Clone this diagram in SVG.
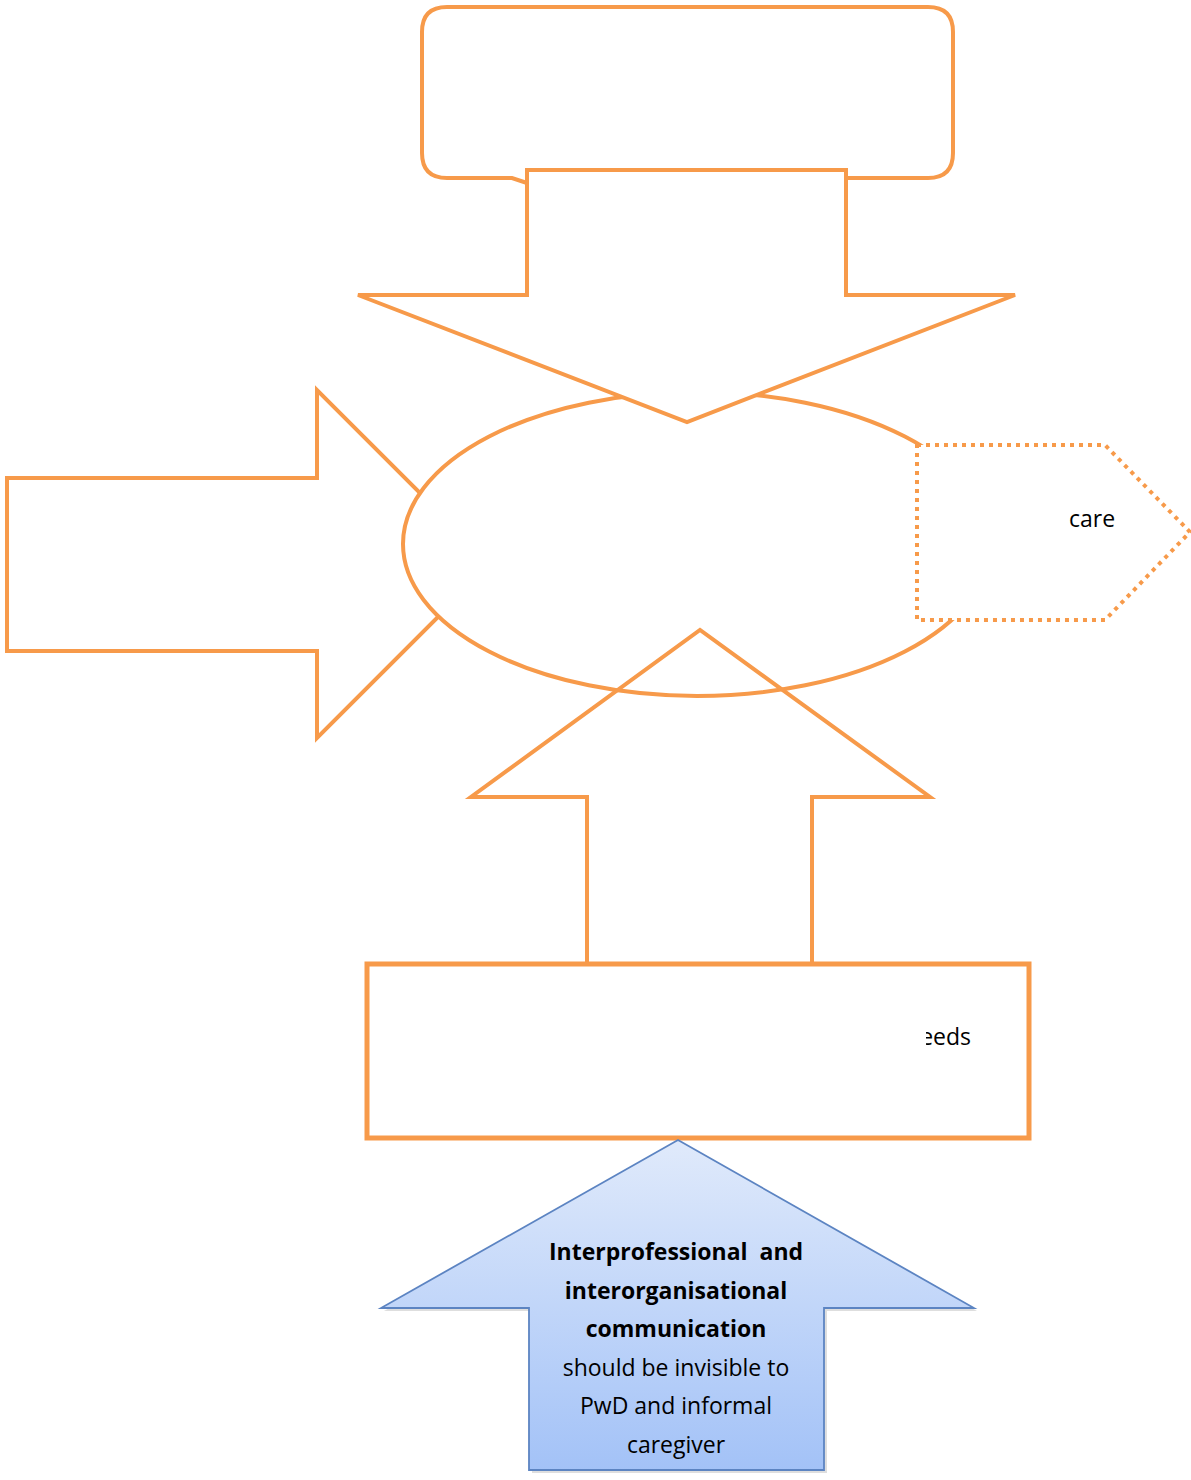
<svg xmlns="http://www.w3.org/2000/svg" width="1191" height="1480" viewBox="0 0 1191 1480">
<defs>
<style>
.o{fill:#fff;stroke:#F79A4A;stroke-width:4;stroke-linejoin:miter}
.t{font-family:"Open Sans","Noto Sans",sans-serif;font-size:23px;fill:#000}
.b{font-weight:bold}
</style>
<linearGradient id="bg" x1="0" y1="0" x2="0" y2="1">
<stop offset="0" stop-color="#E0EAFB"/>
<stop offset="1" stop-color="#A3C2F7"/>
</linearGradient>
<clipPath id="cp"><rect x="926" y="1010" width="80" height="50"/></clipPath>
</defs>
<rect width="1191" height="1480" fill="#fff"/>
<g id="top-box">
<path class="o" d="M846,178 H928 Q953,178 953,153 V32 Q953,7 928,7 H447 Q422,7 422,32 V153 Q422,178 447,178 H512 L527,183"/>
</g>
<g id="left-arrow">
<path class="o" d="M7,478 H317 V390 L491,564 L317,738 V651 H7 Z"/>
</g>
<g id="center-ellipse">
<ellipse class="o" cx="697" cy="544" rx="294" ry="152"/>
</g>
<g id="down-arrow">
<path class="o" d="M527,170 H846 V295 H1015 L687,422 L358,295 H527 Z"/>
</g>
<g id="right-pentagon">
<path d="M917,445 H1105 L1190,532 L1105,620 H917 Z" fill="#fff" stroke="#F79A4A" stroke-width="4" stroke-dasharray="4 5"/>
<text class="t" x="1092" y="527" text-anchor="middle">care</text>
</g>
<g id="up-arrow">
<path d="M587,963 V797 H471 L700,630 L930,797 H812 V963" fill="none" stroke="#F79A4A" stroke-width="4"/>
</g>
<g id="needs-box">
<rect x="367" y="964" width="662" height="174" fill="#fff" stroke="#F79A4A" stroke-width="5"/>
<text class="t" x="971" y="1045" text-anchor="end" clip-path="url(#cp)">eeds</text>
</g>
<g id="blue-arrow">
<path d="M681,1144 L977,1311 H827 V1473 H532 V1311 H384 Z" fill="#c8c8c8" opacity="0.6"/>
<path d="M678,1140 L974,1308 H824 V1470 H529 V1308 H381 Z" fill="url(#bg)" stroke="#5C84C2" stroke-width="1.8"/>
<text class="t b" x="676" y="1260" text-anchor="middle" xml:space="preserve">Interprofessional  and</text>
<text class="t b" x="676" y="1299" text-anchor="middle">interorganisational</text>
<text class="t b" x="676" y="1337" text-anchor="middle">communication</text>
<text class="t" x="676" y="1376" text-anchor="middle">should be invisible to</text>
<text class="t" x="676" y="1414" text-anchor="middle">PwD and informal</text>
<text class="t" x="676" y="1453" text-anchor="middle">caregiver</text>
</g>
<g id="connectors"/>
</svg>
